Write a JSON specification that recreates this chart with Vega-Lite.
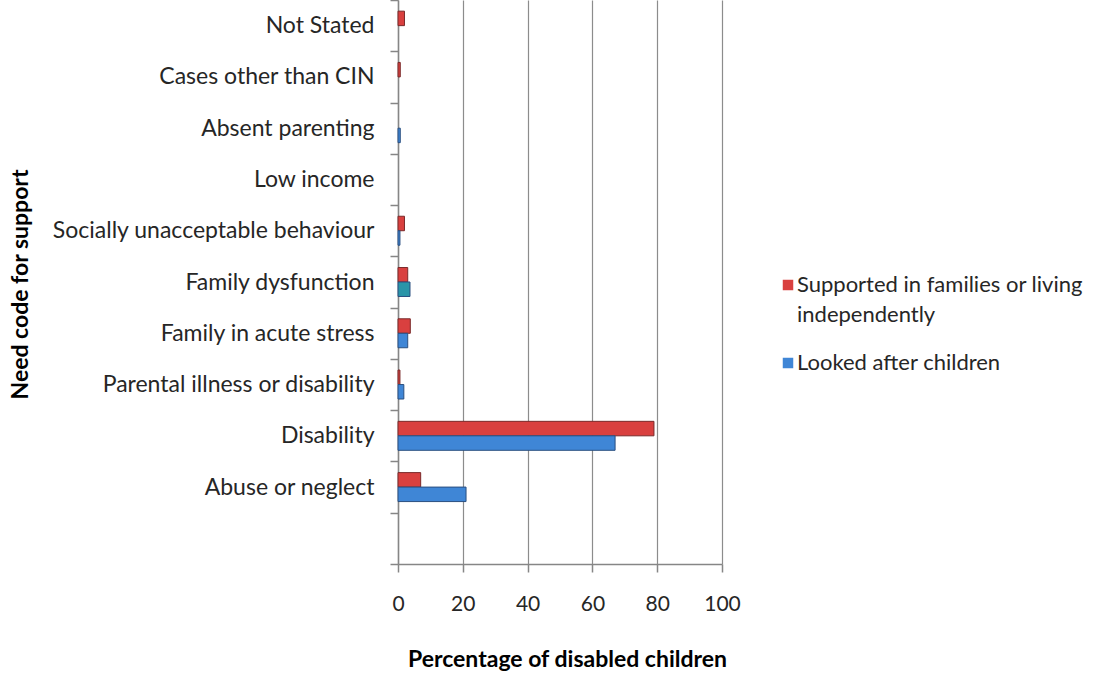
{
  "$schema": "https://vega.github.io/schema/vega-lite/v6.json",
  "width": 324,
  "height": 564,
  "autosize": "none",
  "padding": {"left": 398, "top": 0, "right": 383, "bottom": 109},
  "background": "white",
  "config": {
    "view": {"stroke": null},
    "font": "Lato"
  },
  "data": {
    "values": [
      {"category": "Not Stated", "series": "Supported in families or living independently", "value": 2},
      {"category": "Not Stated", "series": "Looked after children", "value": 0},
      {"category": "Cases other than CIN", "series": "Supported in families or living independently", "value": 0.7},
      {"category": "Cases other than CIN", "series": "Looked after children", "value": 0},
      {"category": "Absent parenting", "series": "Supported in families or living independently", "value": 0},
      {"category": "Absent parenting", "series": "Looked after children", "value": 0.7},
      {"category": "Low income", "series": "Supported in families or living independently", "value": 0},
      {"category": "Low income", "series": "Looked after children", "value": 0},
      {"category": "Socially unacceptable behaviour", "series": "Supported in families or living independently", "value": 2},
      {"category": "Socially unacceptable behaviour", "series": "Looked after children", "value": 0.6},
      {"category": "Family dysfunction", "series": "Supported in families or living independently", "value": 3},
      {"category": "Family dysfunction", "series": "Looked after children", "value": 3.7},
      {"category": "Family in acute stress", "series": "Supported in families or living independently", "value": 3.8},
      {"category": "Family in acute stress", "series": "Looked after children", "value": 3},
      {"category": "Parental illness or disability", "series": "Supported in families or living independently", "value": 0.6},
      {"category": "Parental illness or disability", "series": "Looked after children", "value": 1.8},
      {"category": "Disability", "series": "Supported in families or living independently", "value": 79},
      {"category": "Disability", "series": "Looked after children", "value": 67},
      {"category": "Abuse or neglect", "series": "Supported in families or living independently", "value": 7},
      {"category": "Abuse or neglect", "series": "Looked after children", "value": 21}
    ]
  },
  "transform": [{"filter": "datum.value > 0"}],
  "mark": {"type": "bar", "strokeWidth": 1},
  "encoding": {
    "y": {
      "field": "category",
      "type": "nominal",
      "scale": {
        "domain": ["Not Stated", "Cases other than CIN", "Absent parenting", "Low income", "Socially unacceptable behaviour", "Family dysfunction", "Family in acute stress", "Parental illness or disability", "Disability", "Abuse or neglect", " "],
        "paddingInner": 0,
        "paddingOuter": 0
      },
      "axis": {
        "title": "Need code for support",
        "titleFont": "Lato",
        "titleFontSize": 23,
        "titleFontWeight": "bold",
        "titleColor": "#000000",
        "titleX": -378,
        "titleY": 284,
        "titleAngle": -90,
        "titleAlign": "center",
        "titleBaseline": "middle",
        "labelFont": "Lato",
        "labelFontSize": 23,
        "labelColor": "#262626",
        "labelPadding": 16,
        "labelLimit": 400,
        "tickBand": "extent",
        "tickSize": 8,
        "tickColor": "#868686",
        "tickWidth": 1.5,
        "domainColor": "#868686",
        "domainWidth": 1.5,
        "grid": false
      }
    },
    "yOffset": {
      "field": "series",
      "type": "nominal",
      "sort": ["Supported in families or living independently", "Looked after children"],
      "scale": {
        "domain": ["Supported in families or living independently", "Looked after children"],
        "paddingInner": 0,
        "paddingOuter": 0.77
      }
    },
    "x": {
      "field": "value",
      "type": "quantitative",
      "scale": {"domain": [0, 100], "nice": false},
      "axis": {
        "values": [0, 20, 40, 60, 80, 100],
        "title": "Percentage of disabled children",
        "titleFont": "Lato",
        "titleFontSize": 23,
        "titleFontWeight": "bold",
        "titleColor": "#000000",
        "titlePadding": 34,
        "titleX": 169,
        "labelFont": "Lato",
        "labelFontSize": 21,
        "labelColor": "#262626",
        "labelPadding": 21,
        "labelFlush": false,
        "tickSize": 8,
        "tickColor": "#868686",
        "tickWidth": 1.5,
        "domainColor": "#868686",
        "domainWidth": 1.5,
        "grid": true,
        "gridColor": "#8c8c8c",
        "gridWidth": 1.2
      }
    },
    "color": {
      "condition": {
        "test": "datum.category == 'Family dysfunction' && datum.series == 'Looked after children'",
        "value": "#2A95A8"
      },
      "field": "series",
      "type": "nominal",
      "sort": ["Supported in families or living independently", "Looked after children"],
      "scale": {
        "domain": ["Supported in families or living independently", "Looked after children"],
        "range": ["#D9403F", "#3F86D6"]
      },
      "legend": {
        "title": null,
        "orient": "none",
        "legendX": 379,
        "legendY": 274,
        "symbolType": "square",
        "symbolSize": 110,
        "symbolStrokeWidth": 0,
        "labelFont": "Lato",
        "labelFontSize": 22,
        "labelColor": "#262626",
        "labelLimit": 400,
        "labelOffset": -2,
        "rowPadding": 26,
        "labelExpr": "datum.label == 'Supported in families or living independently' ? ['Supported in families or living', 'independently'] : datum.label",
        "encode": {
          "labels": {"update": {"lineHeight": {"value": 30}}}
        }
      }
    },
    "stroke": {
      "field": "series",
      "type": "nominal",
      "scale": {
        "domain": ["Supported in families or living independently", "Looked after children"],
        "range": ["#7A2A2A", "#2A4F80"]
      },
      "legend": null
    }
  }
}
